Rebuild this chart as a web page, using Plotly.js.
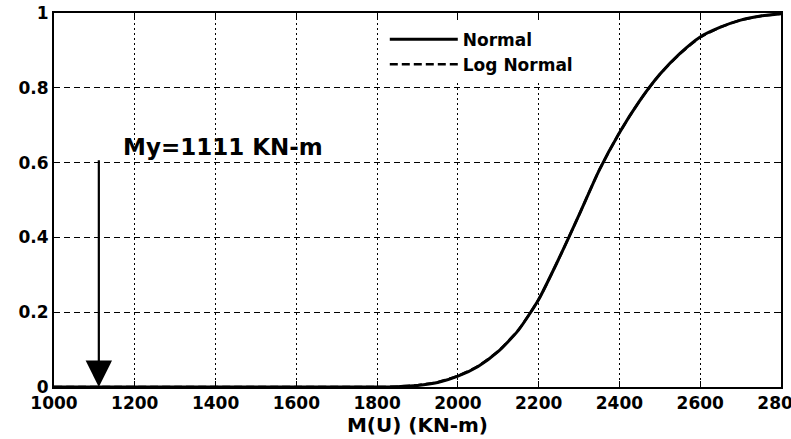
<!DOCTYPE html>
<html>
<head>
<meta charset="utf-8">
<script src="https://cdn.plot.ly/plotly-3.0.1.min.js"></script>
<style>html,body{margin:0;padding:0;background:#fff;}#chart{width:791px;height:439px;}</style>
</head>
<body>
<div id="chart"></div>
<script>
// Data
const mU = [1000, 1800, 1850, 1900, 1950, 2000, 2050, 2100, 2150, 2200, 2250, 2300, 2350, 2400, 2450, 2500, 2550, 2600, 2650, 2700, 2750, 2800];
const normalCdf = [0, 0, 0.001, 0.004, 0.012, 0.029, 0.055, 0.095, 0.152, 0.234, 0.343, 0.46, 0.58, 0.68, 0.765, 0.836, 0.892, 0.936, 0.962, 0.981, 0.992, 0.998];
const logNormalCdf = [0, 0, 0.001, 0.005, 0.013, 0.030, 0.056, 0.096, 0.153, 0.234, 0.343, 0.46, 0.58, 0.68, 0.765, 0.836, 0.891, 0.935, 0.962, 0.981, 0.992, 0.998];
const seriesNames = ["Normal", "Log Normal"];
const xTicks = [1000, 1200, 1400, 1600, 1800, 2000, 2200, 2400, 2600, 2800];
const xTickText = ["1000", "1200", "1400", "1600", "1800", "2000", "2200", "2400", "2600", "2800"];
const yTicks = [0, 0.2, 0.4, 0.6, 0.8, 1];
const yTickText = ["0", "0.2", "0.4", "0.6", "0.8", "1"];
const yieldMoment = 1111;
const yieldArrowTop = 0.61;
const yieldLabel = "My=1111 KN-m";
const yieldLabelPos = [1165, 0.642];

const fontFam = "DejaVu Sans, Arial, sans-serif";
const tickFont = {family: fontFam, size: 17, color: "#000", weight: "bold"};

const traces = [
  {x: mU, y: normalCdf, name: seriesNames[0], type: "scatter", mode: "lines",
   line: {color: "#000", width: 3, shape: "spline", smoothing: 0.6}},
  {x: mU, y: logNormalCdf, name: seriesNames[1], type: "scatter", mode: "lines",
   line: {color: "#000", width: 2.5, dash: "8px,4px", shape: "spline", smoothing: 0.6}}
];

const layout = {
  width: 791, height: 439,
  margin: {l: 54, r: 10, t: 13, b: 52},
  paper_bgcolor: "#fff", plot_bgcolor: "#fff",
  font: {family: fontFam, color: "#000"},
  showlegend: true,
  legend: {x: 0.455, y: 0.977, xanchor: "left", yanchor: "top",
           bgcolor: "#fff", borderwidth: 0, itemwidth: 68,
           font: {family: fontFam, size: 17, color: "#000", weight: "bold"}},
  xaxis: {range: [1000, 2800], tickvals: xTicks, ticktext: xTickText,
          showgrid: true, gridcolor: "#000", gridwidth: 1, griddash: "2px,3px",
          ticks: "inside", ticklen: 6, tickcolor: "#000", tickwidth: 1,
          showline: true, linecolor: "#000", linewidth: 2, mirror: "ticks",
          zeroline: false, tickfont: tickFont, ticklabelstandoff: 0,
          ticklabeloverflow: "allow",
          title: {text: "M(U) (KN-m)", standoff: 4,
                  font: {family: fontFam, size: 20, color: "#000", weight: "bold"}}},
  yaxis: {range: [0, 1], tickvals: yTicks, ticktext: yTickText,
          showgrid: true, gridcolor: "#000", gridwidth: 1, griddash: "6px,4px",
          ticks: "inside", ticklen: 6, tickcolor: "#000", tickwidth: 1,
          showline: true, linecolor: "#000", linewidth: 2, mirror: "ticks",
          zeroline: false, tickfont: tickFont},
  annotations: [
    {x: yieldMoment, y: 0, xref: "x", yref: "y",
     ax: yieldMoment, ay: yieldArrowTop, axref: "x", ayref: "y",
     showarrow: true, arrowhead: 2, arrowsize: 2.4, arrowwidth: 2.2, arrowcolor: "#000", text: ""},
    {x: yieldLabelPos[0], y: yieldLabelPos[1], xref: "x", yref: "y",
     xanchor: "left", yanchor: "middle", showarrow: false, text: yieldLabel,
     font: {family: fontFam, size: 23, color: "#000", weight: "bold"}}
  ]
};

Plotly.newPlot("chart", traces, layout, {displayModeBar: false, staticPlot: true});
</script>
</body>
</html>
